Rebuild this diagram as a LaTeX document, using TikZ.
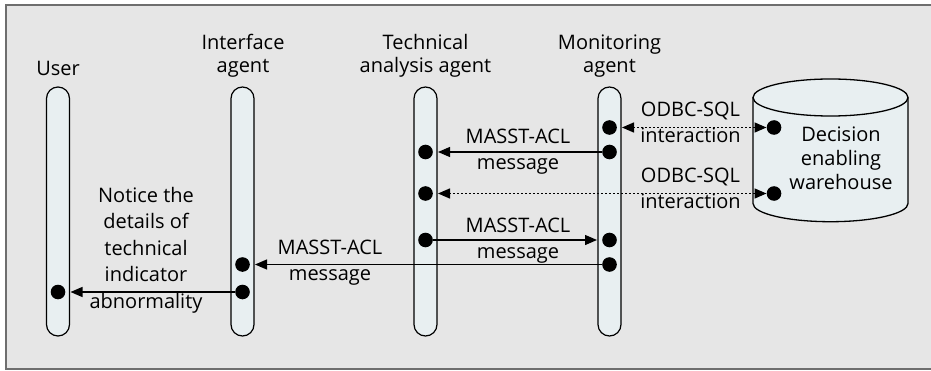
\documentclass[tikz,border=0pt]{standalone}
\usepackage{fontspec}
\setmainfont{Open Sans}
\usetikzlibrary{arrows.meta}
\definecolor{panelgray}{HTML}{E6E6E6}
\definecolor{lanefill}{HTML}{E8EFF1}
\definecolor{rimgray}{HTML}{6E6E6E}

\begin{document}
\begin{tikzpicture}[x=1pt, y=1pt,
        lifeline/.style={rectangle, draw, line width=1.2pt, fill=lanefill, minimum width=23pt, minimum height=249pt, rounded corners=11.5pt, inner sep=0pt},
        dot/.style={circle, fill=black, minimum size=14.6pt, inner sep=0pt},
        heading/.style={font=\fontsize{20}{23}\selectfont, align=center, inner sep=0pt, text depth=0pt, anchor=south},
        msg_label/.style={font=\fontsize{20}{26}\selectfont, align=center, inner sep=0pt, text depth=0pt, anchor=south},
        msg/.style={line width=1.3pt, -{Triangle[length=12pt,width=10pt]}, shorten >=5pt},
        query/.style={line width=1.4pt, dash pattern=on 2pt off 2pt, {Triangle[length=12pt,width=10pt]}-{Triangle[length=12pt,width=10pt]}, shorten >=5pt}
    ]
        \useasboundingbox (0,0) rectangle (931,370);

        % Panel
        \fill[panelgray] (6,1.5) rectangle (931,364.5);
        \draw[rimgray, line width=2pt] (931,364.5) -- (6,364.5) -- (6,1.5) -- (931,1.5);

        % Lifelines
        \node[lifeline] (user) at (58,158.5) {};
        \node[lifeline] (iface) at (242.5,158.5) {};
        \node[lifeline] (tech) at (425.5,158.5) {};
        \node[lifeline] (monitor) at (609.5,158.5) {};

        % Headings
        \node[heading] (user_lbl) at (58,294.5) {User};
        \node[heading] (iface_lbl) at (243,297) {Interface\\agent};
        \node[heading] (tech_lbl) at (425.5,297) {Technical\\analysis agent};
        \node[heading] (monitor_lbl) at (609.5,297) {Monitoring\\agent};

        % Warehouse
        \draw[line width=1.3pt, fill=lanefill] (753,272.5) -- (753,166.5) arc[start angle=180, end angle=360, x radius=77.5, y radius=18.2] -- (908,272.5);
        \draw[line width=1.3pt, fill=lanefill] (830.5,272.5) ellipse[x radius=77.5, y radius=18.5];
        \node[heading, font=\fontsize{20}{24}\selectfont] (warehouse) at (841,180.7) {Decision\\enabling\\warehouse};

        % Dots
        \node[dot] (u_dot1) at (58,78) {};
        \node[dot] (i_dot1) at (242.5,105.5) {};
        \node[dot] (i_dot2) at (242.5,78) {};
        \node[dot] (t_dot1) at (425.5,218) {};
        \node[dot] (t_dot2) at (425.5,176.5) {};
        \node[dot] (t_dot3) at (425.5,130) {};
        \node[dot] (m_dot1) at (609.5,242.5) {};
        \node[dot] (m_dot2) at (609.5,218) {};
        \node[dot] (m_dot3) at (609.5,130) {};
        \node[dot] (m_dot4) at (609.5,105.5) {};
        \node[dot] (w_dot1) at (774,242.5) {};
        \node[dot] (w_dot2) at (774,176.5) {};

        % Connections
        \draw[query] (w_dot1) -- (m_dot1);
        \draw[msg] (m_dot2) -- (t_dot1);
        \draw[query] (w_dot2) -- (t_dot2);
        \draw[msg] (t_dot3) -- (m_dot3);
        \draw[msg] (m_dot4) -- (i_dot1);
        \draw[msg] (i_dot2) -- (u_dot1);

        % Labels
        \node[msg_label] (odbc_top) at (690.5,227.3) {ODBC-SQL\\interaction};
        \node[msg_label] (masst_top) at (518,200) {MASST-ACL\\message};
        \node[msg_label] (odbc_mid) at (690.5,161.7) {ODBC-SQL\\interaction};
        \node[msg_label] (masst_mid) at (518,111.7) {MASST-ACL\\message};
        \node[msg_label] (masst_low) at (330,89.3) {MASST-ACL\\message};
        \node[msg_label, font=\fontsize{20}{26.5}\selectfont] (notice) at (146,61.7) {Notice the\\details of\\technical\\indicator\\abnormality};

    \end{tikzpicture}
\end{document}
